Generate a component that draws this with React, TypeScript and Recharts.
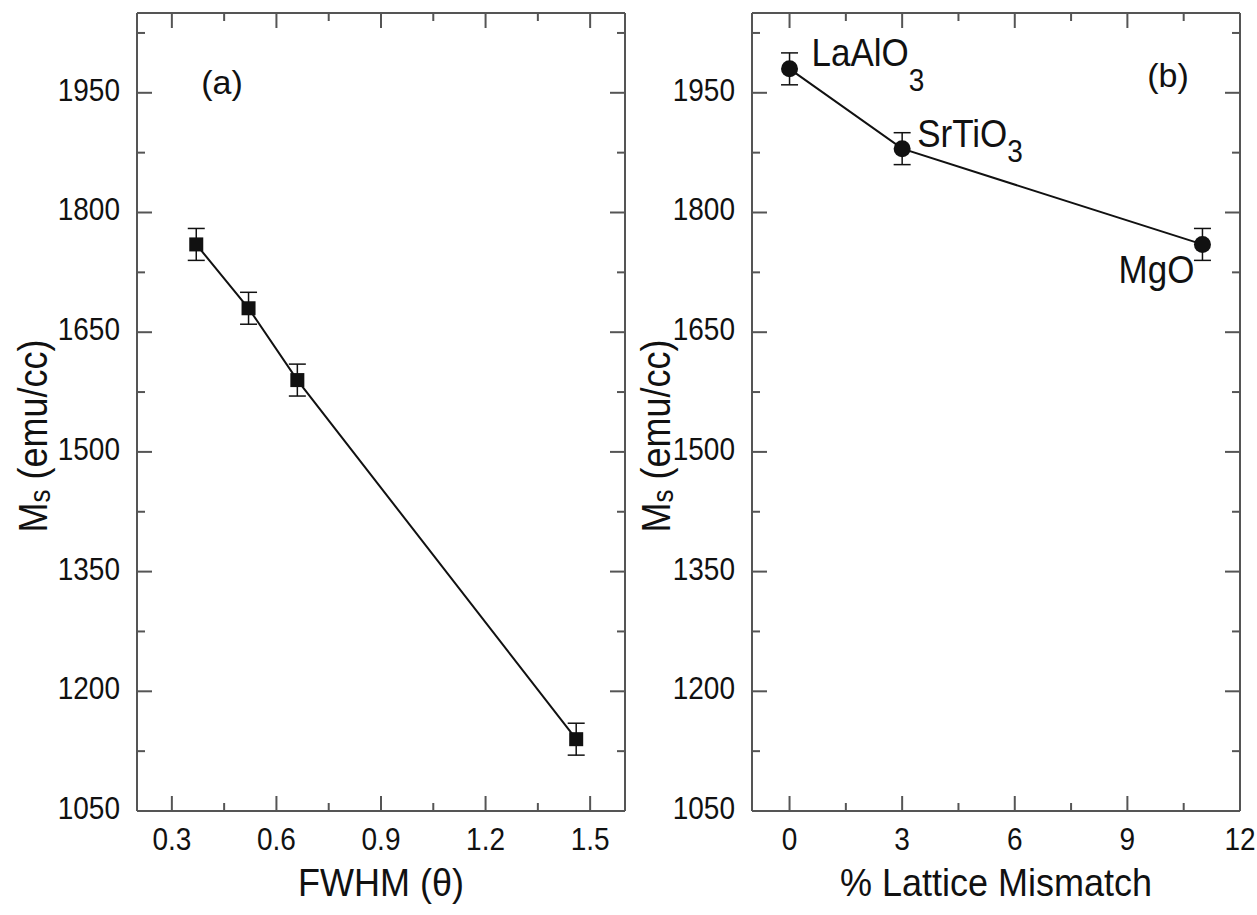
import React from 'react';
import { ScatterChart, Scatter, XAxis, YAxis, ErrorBar, Label } from 'recharts';

const FONT = '"Liberation Sans", Arial, Helvetica, sans-serif';
const AXIS = '#555';
const INK = '#111';

// Panel (a)
const fwhm = [0.37, 0.52, 0.66, 1.46];
const msA = [1760, 1680, 1590, 1140];
const errA = [20, 20, 20, 20];

// Panel (b)
const substrates = ['LaAlO3', 'SrTiO3', 'MgO'];
const mismatch = [0, 3, 11];
const msB = [1980, 1880, 1760];
const errB = [20, 20, 20];

// Ticks
const xMajorA = [0.3, 0.6, 0.9, 1.2, 1.5];
const xMinorA = [0.45, 0.75, 1.05, 1.35];
const xMajorB = [0, 3, 6, 9, 12];
const xMinorB = [1.5, 4.5, 7.5, 10.5];
const yMajor = [1050, 1200, 1350, 1500, 1650, 1800, 1950];
const yMinor = [1125, 1275, 1425, 1575, 1725, 1875, 2025];

const dataA = fwhm.map((x, i) => ({ x, y: msA[i], err: errA[i] }));
const dataB = mismatch.map((x, i) => ({ x, y: msB[i], err: errB[i], name: substrates[i] }));

const MAJOR_LEN = 15;
const MINOR_LEN = 8;
const TICK_FONT = 28;
const TITLE_FONT = 36;
const STRETCH = 1.1;

// horizontal text slightly stretched vertically about its baseline
const SText = (props: any) => {
  const { x, y, children, ...rest } = props;
  return (
    <text
      x={x}
      y={y}
      transform={`matrix(1 0 0 ${STRETCH} 0 ${-(STRETCH - 1) * y})`}
      fontFamily={FONT}
      fill={INK}
      {...rest}
    >
      {children}
    </text>
  );
};

type Side = 'bottom' | 'top' | 'left' | 'right';

function makeTick(side: Side, majors: number[], showLabel: boolean) {
  return (props: any) => {
    const { x, y, payload } = props;
    const v = payload.value;
    const isMajor = majors.some((m) => Math.abs(m - v) < 1e-9);
    const len = isMajor ? MAJOR_LEN : MINOR_LEN;
    let line: React.ReactNode = null;
    let text: React.ReactNode = null;
    const ls = { stroke: AXIS, strokeWidth: 2 };
    if (side === 'bottom') {
      line = <line x1={x} x2={x} y1={y} y2={y - len} {...ls} />;
      if (showLabel && isMajor)
        text = (
          <SText x={x} y={y + 39} textAnchor="middle" fontSize={TICK_FONT}>
            {String(v)}
          </SText>
        );
    } else if (side === 'top') {
      line = <line x1={x} x2={x} y1={y} y2={y + len} {...ls} />;
    } else if (side === 'left') {
      line = <line x1={x} x2={x + len} y1={y} y2={y} {...ls} />;
      if (showLabel && isMajor)
        text = (
          <SText x={x - 17} y={y + 8} textAnchor="end" fontSize={TICK_FONT}>
            {String(v)}
          </SText>
        );
    } else {
      line = <line x1={x} x2={x - len} y1={y} y2={y} {...ls} />;
    }
    return (
      <g>
        {line}
        {text}
      </g>
    );
  };
}

const Y_STRETCH = 1.15;
const yTitle = (baselineX: number, centerY: number) => (p: any) => {
  const vb = p.viewBox || { x: 0, y: 0 };
  const cx = vb.x + baselineX;
  const cy = centerY;
  return (
    <text
      x={cx}
      y={cy}
      transform={`matrix(${Y_STRETCH} 0 0 1 ${-(Y_STRETCH - 1) * cx} 0) rotate(-90, ${cx}, ${cy})`}
      textAnchor="middle"
      fontSize={36}
      fontFamily={FONT}
      fill={INK}
    >
      <tspan>M</tspan>
      <tspan fontSize={26} dy={3}>s</tspan>
      <tspan dy={-3}>{' (emu/cc)'}</tspan>
    </text>
  );
};

const xTitle = (title: string) => (p: any) => {
  const vb = p.viewBox;
  return (
    <SText x={vb.x + vb.width / 2} y={vb.y + 85} textAnchor="middle" fontSize={TITLE_FONT}>
      {title}
    </SText>
  );
};

const panelTag = (tag: string, dx: number, baseline: number) => (p: any) => {
  const vb = p.viewBox;
  return (
    <text x={vb.x + dx} y={baseline} textAnchor="middle" fontSize={34} fontFamily={FONT} fill={INK}>
      {tag}
    </text>
  );
};

const squareShape = (props: any) => {
  const { cx, cy } = props;
  if (cx == null || cy == null) return <g />;
  return <rect x={cx - 7} y={cy - 7} width={14} height={14} fill={INK} />;
};

const hiddenShape = () => <g />;

const labelPlacement: Record<
  string,
  { dx: number; dy: number; subDy: number; anchor: 'start' | 'end'; base: string; sub: string }
> = {
  LaAlO3: { dx: 22, dy: -3, subDy: 23, anchor: 'start', base: 'LaAlO', sub: '3' },
  SrTiO3: { dx: 15, dy: -2, subDy: 14, anchor: 'start', base: 'SrTiO', sub: '3' },
  MgO: { dx: -8, dy: 39, subDy: 0, anchor: 'end', base: 'MgO', sub: '' },
};

const circleShape = (props: any) => {
  const { cx, cy, payload } = props;
  if (cx == null || cy == null) return <g />;
  const lp = labelPlacement[payload?.name];
  return (
    <g>
      <circle cx={cx} cy={cy} r={8.5} fill={INK} />
      {lp && (
        <SText x={cx + lp.dx} y={cy + lp.dy} textAnchor={lp.anchor} fontSize={35}>
          <tspan>{lp.base}</tspan>
          {lp.sub && (
            <tspan fontSize={28} dy={lp.subDy}>
              {lp.sub}
            </tspan>
          )}
        </SText>
      )}
    </g>
  );
};

const axisLine = { stroke: AXIS, strokeWidth: 2 };

function Panel(props: {
  width: number;
  yAxisWidth: number;
  rightMargin: number;
  xDomain: [number, number];
  xMajor: number[];
  xMinor: number[];
  xLabel: string;
  tag: string;
  tagDx: number;
  tagBaseline: number;
  yTitleX: number;
  data: any[];
  shape: any;
}) {
  const xTicks = [...props.xMajor, ...props.xMinor].sort((a, b) => a - b);
  const yTicks = [...yMajor, ...yMinor].sort((a, b) => a - b);
  const common = {
    allowDataOverflow: true,
    interval: 0 as const,
    tickSize: 0,
    tickMargin: 0,
    tickLine: false,
    axisLine,
  };
  return (
    <ScatterChart width={props.width} height={915} margin={{ top: 12, right: props.rightMargin, bottom: 0, left: 0 }}>
      <XAxis
        xAxisId="b"
        type="number"
        dataKey="x"
        domain={props.xDomain}
        ticks={xTicks}
        height={104}
        tick={makeTick('bottom', props.xMajor, true)}
        label={<Label content={xTitle(props.xLabel)} />}
        {...common}
      />
      <XAxis
        xAxisId="t"
        orientation="top"
        type="number"
        dataKey="x"
        domain={props.xDomain}
        ticks={xTicks}
        height={1}
        tick={makeTick('top', props.xMajor, false)}
        label={<Label content={panelTag(props.tag, props.tagDx, props.tagBaseline)} />}
        {...common}
      />
      <YAxis
        yAxisId="l"
        type="number"
        dataKey="y"
        domain={[1050, 2050]}
        ticks={yTicks}
        width={props.yAxisWidth}
        tick={makeTick('left', yMajor, true)}
        label={<Label content={yTitle(props.yTitleX, 436)} />}
        {...common}
      />
      <YAxis
        yAxisId="r"
        orientation="right"
        type="number"
        dataKey="y"
        domain={[1050, 2050]}
        ticks={yTicks}
        width={1}
        tick={makeTick('right', yMajor, false)}
        {...common}
      />
      <Scatter xAxisId="t" yAxisId="r" data={props.data} shape={hiddenShape} isAnimationActive={false} />
      <Scatter
        xAxisId="b"
        yAxisId="l"
        data={props.data}
        line={{ stroke: INK, strokeWidth: 2 }}
        lineType="joint"
        shape={props.shape}
        isAnimationActive={false}
      >
        <ErrorBar dataKey="err" direction="y" width={8.5} stroke={INK} strokeWidth={1.5} isAnimationActive={false} />
      </Scatter>
    </ScatterChart>
  );
}

export default function App() {
  return (
    <div style={{ position: 'absolute', left: 0, top: 0, width: 1257, height: 915, background: '#fff' }}>
      <div style={{ position: 'absolute', left: 0, top: 0 }}>
        <Panel
          width={628}
          yAxisWidth={137}
          rightMargin={2}
          xDomain={[0.2, 1.6]}
          xMajor={xMajorA}
          xMinor={xMinorA}
          xLabel={'FWHM (\u03B8)'}
          tag="(a)"
          tagDx={85}
          tagBaseline={94}
          yTitleX={47}
          data={dataA}
          shape={squareShape}
        />
      </div>
      <div style={{ position: 'absolute', left: 628, top: 0 }}>
        <Panel
          width={629}
          yAxisWidth={124}
          rightMargin={16}
          xDomain={[-1, 12]}
          xMajor={xMajorB}
          xMinor={xMinorB}
          xLabel="% Lattice Mismatch"
          tag="(b)"
          tagDx={416}
          tagBaseline={87}
          yTitleX={42}
          data={dataB}
          shape={circleShape}
        />
      </div>
    </div>
  );
}
